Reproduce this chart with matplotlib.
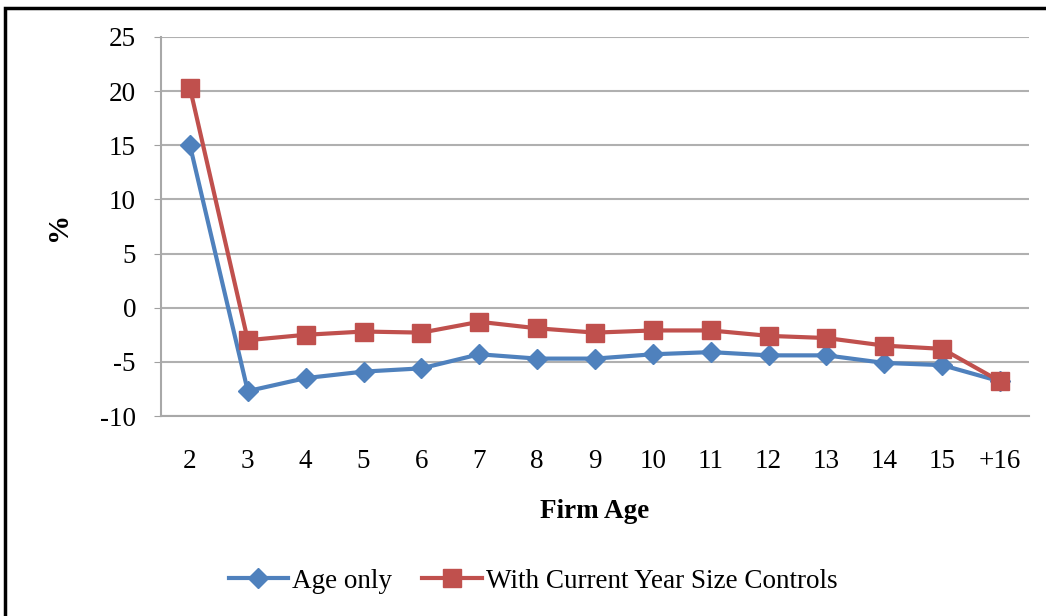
import matplotlib.pyplot as plt
from matplotlib.lines import Line2D

ages = ['2', '3', '4', '5', '6', '7', '8', '9', '10', '11', '12', '13', '14', '15', '+16']
age_only = [15.0, -7.7, -6.5, -5.9, -5.6, -4.3, -4.7, -4.7, -4.3, -4.1, -4.4, -4.4, -5.1, -5.3, -6.8]
size_ctrl = [20.3, -3.0, -2.5, -2.2, -2.3, -1.3, -1.9, -2.3, -2.1, -2.1, -2.6, -2.8, -3.5, -3.8, -6.8]
yticks = [-10, -5, 0, 5, 10, 15, 20, 25]

blue = '#4F81BD'
red = '#C0504D'
serif = ['Liberation Serif', 'DejaVu Serif']

fig = plt.figure(figsize=(10.46, 6.16), dpi=100)
ax = fig.add_axes([161 / 1046, 1 - 416 / 616, (1029 - 161) / 1046, (416 - 37) / 616])

x = list(range(len(ages)))
ax.plot(x, age_only, color=blue, lw=3, marker='D', ms=10.5, zorder=3)
ax.plot(x, size_ctrl, color=red, lw=3, marker='s', ms=13, zorder=4)

ax.set_xlim(-0.5, len(ages) - 0.5)
ax.set_ylim(-10, 25)
ax.set_yticks(yticks)
ax.set_yticklabels([str(v) for v in yticks], fontfamily=serif, fontsize=19.5)
ax.set_xticks(x)
ax.set_xticklabels(ages, fontfamily=serif, fontsize=19.5)
ax.tick_params(axis='x', length=0, pad=24)
ax.tick_params(axis='y', length=5, color='#a0a0a0', pad=13)
ax.grid(axis='y', color='#b0b0b0', lw=1.5)
ax.set_axisbelow(True)
for s in ['top', 'right']:
    ax.spines[s].set_visible(False)
for s in ['left', 'bottom']:
    ax.spines[s].set_color('#a8a8a8')
    ax.spines[s].set_linewidth(1.5)

ax.set_ylabel('%', fontfamily=serif, fontsize=21, fontweight='bold', labelpad=20)
ax.set_xlabel('Firm Age', fontfamily=serif, fontsize=19.5, fontweight='bold', labelpad=18)

handles = [Line2D([], [], color=blue, lw=3, marker='D', ms=10.5),
           Line2D([], [], color=red, lw=3, marker='s', ms=13)]
fig.legend(handles, ['Age only', 'With Current Year Size Controls'], loc='center',
           bbox_to_anchor=(533 / 1046, 1 - 581 / 616), ncol=2, frameon=False,
           prop={'family': serif, 'size': 19.5}, handlelength=2.2, handletextpad=0.15,
           columnspacing=1.1)

fig.add_artist(plt.Rectangle((5 / 1046, -0.05), 1.2, 1 - 8 / 616 + 0.05,
                             transform=fig.transFigure, fill=False, ec='black', lw=2.5))

fig.savefig('out.png', dpi=100)
